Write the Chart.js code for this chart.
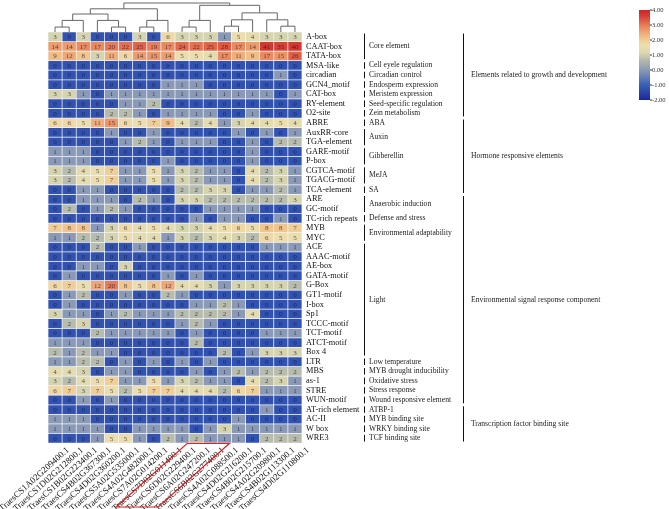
<!DOCTYPE html>
<html lang="en">
<head>
<meta charset="UTF-8">
<title>Cis-acting elements heatmap</title>
<script src="https://cdn.jsdelivr.net/npm/chart.js"></script>
<style>
    html, body { margin: 0; padding: 0; background: #fff; }
</style>
</head>
<body>
<canvas id="heat" width="669" height="509"></canvas>
<script>
const genes = ['TraesCS1A02G209400.1', 'TraesCS1D02G212800.1', 'TraesCS1B02G223400.1', 'TraesCS4B02G367300.1',
    'TraesCS4D02G360200.1', 'TraesCS5A02G535000.1', 'TraesCS4A02G482000.1', 'TraesCS7A02G014200.1',
    'TraesCS7D02G011400.1', 'TraesCS6D02G229400.1', 'TraesCS6A02G247200.1', 'TraesCS6B02G277400.1',
    'TraesCS4A02G088500.1', 'TraesCS4D02G216200.1', 'TraesCS4B02G215700.1', 'TraesCS4A02G209800.1',
    'TraesCS4B02G113300.1', 'TraesCS4D02G110800.1'];

const elements = ['A-box', 'CAAT-box', 'TATA-box', 'MSA-like', 'circadian', 'GCN4_motif', 'CAT-box', 'RY-element',
    'O2-site', 'ABRE', 'AuxRR-core', 'TGA-element', 'GARE-motif', 'P-box', 'CGTCA-motif', 'TGACG-motif',
    'TCA-element', 'ARE', 'GC-motif', 'TC-rich repeats', 'MYB', 'MYC', 'ACE', 'AAAC-motif', 'AE-box',
    'GATA-motif', 'G-Box', 'GT1-motif', 'I-box', 'Sp1', 'TCCC-motif', 'TCT-motif', 'ATCT-motif', 'Box 4',
    'LTR', 'MBS', 'as-1', 'STRE', 'WUN-motif', 'AT-rich element', 'AC-II', 'W box', 'WRE3'];

// number of each element per gene (rows = elements, columns = genes)
const counts = [
    [3, 0, 3, 0, 0, 0, 3, 0, 6, 3, 3, 3, 1, 5, 4, 3, 3, 3],
    [14, 14, 17, 17, 20, 22, 25, 19, 17, 24, 22, 25, 28, 17, 14, 41, 35, 40],
    [9, 12, 8, 3, 11, 6, 14, 15, 14, 5, 5, 4, 17, 11, 9, 17, 15, 26],
    [0, 0, 0, 0, 0, 0, 0, 0, 0, 0, 0, 0, 0, 0, 0, 0, 0, 0],
    [0, 0, 0, 0, 0, 0, 0, 0, 0, 0, 0, 0, 0, 0, 0, 0, 1, 0],
    [0, 0, 0, 0, 0, 0, 0, 0, 1, 1, 1, 0, 0, 0, 0, 0, 0, 0],
    [3, 3, 1, 0, 1, 1, 1, 1, 1, 1, 1, 1, 1, 1, 1, 1, 0, 1],
    [0, 0, 0, 0, 0, 1, 1, 2, 0, 0, 0, 0, 0, 0, 0, 0, 0, 0],
    [0, 0, 0, 0, 2, 2, 1, 0, 1, 1, 1, 1, 0, 0, 1, 0, 0, 0],
    [6, 6, 5, 11, 15, 6, 5, 7, 9, 4, 2, 4, 1, 3, 4, 4, 5, 4],
    [0, 0, 0, 0, 1, 0, 0, 1, 0, 0, 0, 0, 0, 1, 0, 1, 0, 1],
    [0, 0, 0, 0, 0, 1, 2, 1, 0, 1, 1, 1, 0, 0, 1, 0, 2, 2],
    [1, 1, 1, 0, 0, 0, 0, 0, 0, 0, 0, 0, 0, 0, 1, 0, 0, 0],
    [1, 1, 1, 0, 0, 0, 0, 0, 1, 0, 0, 0, 0, 0, 1, 0, 0, 0],
    [3, 2, 4, 5, 7, 1, 1, 5, 1, 3, 2, 1, 1, 0, 4, 2, 3, 1],
    [3, 2, 4, 5, 7, 1, 1, 5, 1, 3, 2, 1, 1, 0, 4, 2, 3, 1],
    [0, 0, 1, 1, 0, 0, 0, 0, 0, 2, 2, 3, 3, 0, 1, 1, 2, 1],
    [0, 0, 1, 1, 1, 0, 2, 1, 0, 3, 3, 2, 2, 2, 2, 2, 2, 3],
    [0, 2, 0, 1, 2, 1, 0, 0, 0, 0, 0, 1, 1, 1, 1, 0, 0, 0],
    [0, 0, 0, 0, 0, 0, 0, 0, 0, 0, 1, 0, 1, 1, 0, 0, 1, 0],
    [7, 8, 8, 1, 3, 6, 4, 5, 4, 3, 3, 4, 5, 6, 5, 8, 8, 7],
    [1, 1, 2, 2, 3, 5, 4, 4, 1, 3, 2, 3, 4, 3, 2, 6, 5, 5],
    [0, 0, 0, 2, 0, 0, 1, 0, 0, 0, 0, 0, 0, 0, 0, 1, 1, 1],
    [0, 0, 0, 0, 0, 0, 0, 0, 0, 0, 0, 0, 0, 0, 0, 0, 0, 0],
    [0, 0, 1, 1, 0, 3, 0, 0, 0, 0, 0, 0, 0, 0, 0, 0, 0, 0],
    [0, 1, 0, 0, 0, 0, 0, 0, 1, 0, 1, 0, 0, 0, 0, 0, 0, 0],
    [6, 7, 5, 12, 20, 8, 5, 8, 12, 4, 4, 3, 1, 3, 3, 3, 3, 2],
    [0, 1, 2, 0, 0, 1, 0, 0, 2, 1, 0, 0, 0, 0, 0, 0, 0, 0],
    [0, 1, 0, 0, 0, 0, 0, 0, 0, 0, 1, 1, 2, 1, 0, 0, 0, 0],
    [3, 1, 1, 0, 1, 2, 1, 1, 1, 2, 2, 2, 2, 1, 4, 0, 0, 0],
    [0, 2, 3, 0, 0, 0, 0, 0, 0, 1, 2, 1, 0, 0, 0, 0, 0, 0],
    [0, 0, 0, 2, 1, 1, 1, 1, 1, 0, 1, 0, 0, 0, 0, 1, 1, 1],
    [1, 1, 1, 0, 0, 0, 0, 0, 0, 0, 2, 0, 0, 0, 0, 0, 0, 0],
    [2, 1, 2, 1, 1, 0, 0, 0, 0, 0, 0, 0, 2, 0, 1, 3, 3, 3],
    [1, 1, 2, 2, 0, 1, 0, 1, 0, 1, 0, 1, 0, 0, 0, 0, 0, 0],
    [4, 4, 3, 0, 1, 1, 0, 0, 0, 0, 1, 0, 1, 2, 1, 2, 2, 2],
    [3, 2, 4, 5, 7, 1, 1, 5, 1, 3, 2, 1, 1, 0, 4, 2, 3, 1],
    [6, 7, 3, 7, 5, 2, 5, 7, 7, 4, 4, 4, 2, 6, 7, 1, 1, 1],
    [0, 0, 1, 0, 1, 0, 0, 0, 0, 0, 0, 0, 0, 0, 0, 0, 0, 0],
    [0, 0, 0, 0, 0, 0, 0, 0, 0, 0, 0, 0, 0, 0, 0, 1, 0, 0],
    [1, 1, 1, 0, 0, 0, 0, 0, 0, 0, 0, 0, 0, 1, 0, 0, 0, 0],
    [1, 1, 1, 1, 0, 0, 1, 1, 1, 1, 0, 1, 3, 1, 1, 1, 1, 1],
    [0, 0, 0, 1, 5, 5, 1, 0, 2, 1, 2, 1, 1, 1, 0, 2, 2, 2]
];

// functional categories (first row, last row)
const catNames = ['Core element', 'Cell eyele regulation', 'Circadian control', 'Endosperm expression',
    'Meristem expression', 'Seed-specific regulation', 'Zein metabolism', 'ABA', 'Auxin', 'Gibberellin',
    'MeJA', 'SA', 'Anaerobic induction', 'Defense and stress', 'Environmental adaptability', 'Light',
    'Low temperature', 'MYB drought inducibility', 'Oxidative stress', 'Stress response',
    'Wound responsive element', 'ATBP-1', 'MYB binding site', 'WRKY binding site', 'TCF binding site'];
const catFirst = [0, 3, 4, 5, 6, 7, 8, 9, 10, 12, 14, 16, 17, 19, 20, 22, 34, 35, 36, 37, 38, 39, 40, 41, 42];
const catLast = [2, 3, 4, 5, 6, 7, 8, 9, 11, 13, 15, 16, 18, 19, 21, 33, 34, 35, 36, 37, 38, 39, 40, 41, 42];

const groupNames = ['Elements related to growth and development', 'Hormone responsive elements',
    'Environmental signal response component', 'Transcription factor binding site'];
const groupFirst = [0, 9, 17, 39];
const groupLast = [8, 16, 38, 42];

// column clustering: [child a, child b, height]; leaves 0..17, merge k is node 18+k
const dendroMerges = [[0, 1, 0.17], [18, 2, 0.4], [4, 5, 0.17], [3, 20, 0.4], [19, 21, 0.62],
    [6, 7, 0.17], [23, 8, 0.4], [22, 24, 0.8], [9, 10, 0.17], [26, 11, 0.4], [12, 13, 0.2],
    [28, 14, 0.42], [16, 17, 0.2], [15, 30, 0.42], [29, 31, 0.66], [27, 32, 0.92], [25, 33, 1.0]];

const legendTicks = [4, 3, 2, 1, 0, -1, -2];

const serif = '"Liberation Serif", "Times New Roman", serif';
const labelShift = 13;
const stops = [[-2, [27, 40, 156]], [-1, [56, 96, 182]], [0, [138, 154, 182]], [0.6, [176, 182, 172]],
    [1.2, [222, 218, 176]], [1.7, [238, 222, 172]], [2.1, [242, 196, 140]], [2.6, [238, 160, 110]],
    [3.1, [230, 112, 80]], [3.6, [214, 62, 52]], [4, [206, 36, 38]]];

const colourAt = (v) => {
    v = Math.max(-2, Math.min(4, v));
    for (let i = 1; i < stops.length; i++) {
        if (v <= stops[i][0]) {
            const [v0, c0] = stops[i - 1], [v1, c1] = stops[i];
            const t = (v - v0) / (v1 - v0);
            const c = c0.map((x, k) => Math.round(x + (c1[k] - x) * t));
            return `rgb(${c[0]},${c[1]},${c[2]})`;
        }
    }
    return 'rgb(206,36,38)';
};
const cellColour = (n) => colourAt(n > 0 ? Math.log(n) : -1.25);

const cellText = {
    id: 'cellText',
    afterDatasetsDraw(chart) {
        const ctx = chart.ctx;
        ctx.save();
        ctx.font = '7px ' + serif;
        ctx.textAlign = 'center';
        ctx.textBaseline = 'middle';
        ctx.fillStyle = 'rgba(25,25,45,0.75)';
        chart.data.datasets.forEach((ds, r) => {
            chart.getDatasetMeta(r).data.forEach((bar, c) => {
                ctx.fillText(String(counts[r][c]), bar.x, (bar.y + bar.base) / 2 + 0.5);
            });
        });
        ctx.restore();
    }
};

const decorations = {
    id: 'decorations',
    afterDraw(chart) {
        const ctx = chart.ctx, area = chart.chartArea;
        const x = chart.scales.x, y = chart.scales.y;
        ctx.save();

        // dendrogram
        const nodeX = genes.map((g, i) => x.getPixelForValue(i));
        const nodeH = genes.map(() => 0);
        const toY = (h) => area.top - h * 29;
        ctx.strokeStyle = '#666';
        ctx.lineWidth = 1;
        dendroMerges.forEach(([a, b, h]) => {
            ctx.beginPath();
            ctx.moveTo(nodeX[a], toY(nodeH[a]));
            ctx.lineTo(nodeX[a], toY(h));
            ctx.lineTo(nodeX[b], toY(h));
            ctx.lineTo(nodeX[b], toY(nodeH[b]));
            ctx.stroke();
            nodeX.push((nodeX[a] + nodeX[b]) / 2);
            nodeH.push(h);
        });

        // category brackets and names
        ctx.strokeStyle = '#111';
        ctx.fillStyle = '#222';
        ctx.textBaseline = 'middle';
        ctx.textAlign = 'left';
        ctx.font = '7.6px ' + serif;
        catNames.forEach((name, i) => {
            const y0 = y.getPixelForValue(catFirst[i]) + 1.5, y1 = y.getPixelForValue(catLast[i] + 1) - 1.5;
            ctx.beginPath();
            ctx.moveTo(364.5, y0);
            ctx.lineTo(364.5, y1);
            ctx.stroke();
            ctx.fillText(name, 369, (y0 + y1) / 2);
        });
        groupNames.forEach((name, i) => {
            const y0 = y.getPixelForValue(groupFirst[i]) + 1.5, y1 = y.getPixelForValue(groupLast[i] + 1) - 1.5;
            ctx.beginPath();
            ctx.moveTo(463.5, y0);
            ctx.lineTo(463.5, y1);
            ctx.stroke();
            ctx.fillText(name, 471, (y0 + y1) / 2);
        });

        // colour bar
        const bx = 639, bw = 11, top = 10, bottom = 100;
        const grad = ctx.createLinearGradient(0, bottom, 0, top);
        stops.forEach(([v, c]) => grad.addColorStop((v + 2) / 6, `rgb(${c[0]},${c[1]},${c[2]})`));
        ctx.fillStyle = grad;
        ctx.fillRect(bx, top, bw, bottom - top);
        ctx.font = '6.5px ' + serif;
        ctx.fillStyle = '#333';
        ctx.strokeStyle = '#333';
        legendTicks.forEach(v => {
            const ty = bottom - (v + 2) / 6 * (bottom - top);
            ctx.beginPath();
            ctx.moveTo(bx + bw, ty);
            ctx.lineTo(bx + bw + 2, ty);
            ctx.stroke();
            ctx.fillText(v.toFixed(2), bx + bw + 2, ty);
        });

        // red frame round the chromosome 6 gene labels
        const tl = x.getPixelForValue(9) + labelShift - 8, tr = x.getPixelForValue(11) + labelShift + 6;
        const drop = 64, run = drop / Math.tan(42 * Math.PI / 180);
        ctx.strokeStyle = '#e02020';
        ctx.lineWidth = 1.2;
        ctx.beginPath();
        ctx.moveTo(tl, area.bottom + 0.5);
        ctx.lineTo(tr, area.bottom + 0.5);
        ctx.lineTo(tr - run, area.bottom + drop);
        ctx.lineTo(tl - run, area.bottom + drop);
        ctx.closePath();
        ctx.stroke();
        ctx.restore();
    }
};

new Chart(document.getElementById('heat'), {
    type: 'bar',
    data: {
        labels: genes,
        datasets: elements.map((el, r) => ({
            label: el,
            data: genes.map(() => 1),
            backgroundColor: counts[r].map(cellColour),
            borderColor: 'rgba(235,238,245,0.55)',
            borderWidth: 0.7,
            borderSkipped: false,
            barPercentage: 1,
            categoryPercentage: 1
        }))
    },
    options: {
        responsive: false,
        animation: false,
        layout: { padding: { left: 48, top: 32, right: 0, bottom: 0 } },
        plugins: { legend: { display: false }, tooltip: { enabled: false } },
        scales: {
            x: {
                stacked: true,
                grid: { display: false, drawTicks: false },
                border: { display: false },
                ticks: { autoSkip: false, minRotation: 42, maxRotation: 42, padding: 2, labelOffset: labelShift,
                    color: '#111', font: { family: serif, size: 9 } },
                afterFit: (s) => { s.height = 66; s.paddingLeft = 0; s.paddingRight = 0; }
            },
            y: {
                stacked: true,
                position: 'right',
                reverse: true,
                min: 0,
                max: elements.length,
                grid: { display: false, drawTicks: false },
                border: { display: false },
                afterBuildTicks: (axis) => { axis.ticks = elements.map((e, i) => ({ value: i + 0.5 })); },
                ticks: { autoSkip: false, padding: 4, color: '#111', font: { family: serif, size: 8.3 },
                    callback: (v, i) => elements[i] },
                afterFit: (s) => { s.width = 367; }
            }
        }
    },
    plugins: [cellText, decorations]
});
</script>
</body>
</html>
